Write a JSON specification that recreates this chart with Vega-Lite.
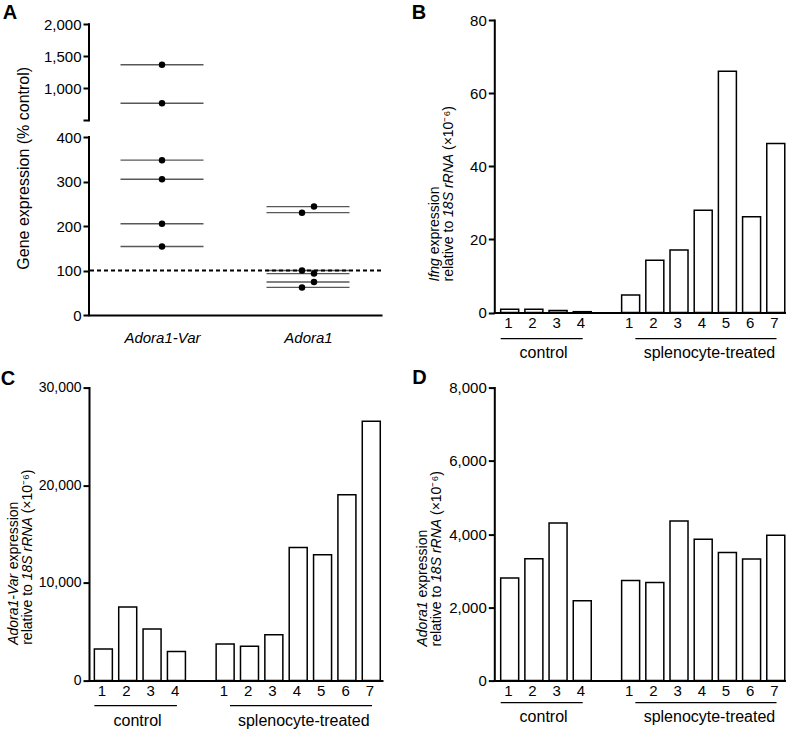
{
  "$schema": "https://vega.github.io/schema/vega-lite/v6.json",
  "background": "white",
  "padding": {"left": 0, "top": 2, "right": 0, "bottom": 0},
  "config": {
    "font": "Liberation Sans",
    "view": {"stroke": null},
    "axis": {"domainColor": "black", "domainWidth": 2, "domainCap": "square", "tickColor": "black", "tickWidth": 2, "tickSize": 6, "labelColor": "black", "labelFontSize": 15, "labelFont": "Liberation Sans", "labelOverlap": false, "titleColor": "black", "titleFont": "Liberation Sans", "titleFontWeight": "normal", "titleFontSize": 14, "grid": false},
    "axisY": {"labelPadding": 2},
    "title": {"fontSize": 20, "fontWeight": "bold", "anchor": "start", "frame": "group", "color": "black", "font": "Liberation Sans", "offset": 0, "baseline": "alphabetic"}
  },
  "datasets": {
    "A": [
      {"gene": "Adora1-Var", "value": 1367, "side": "C"},
      {"gene": "Adora1-Var", "value": 767, "side": "C"},
      {"gene": "Adora1-Var", "value": 348, "side": "C"},
      {"gene": "Adora1-Var", "value": 305, "side": "C"},
      {"gene": "Adora1-Var", "value": 205, "side": "C"},
      {"gene": "Adora1-Var", "value": 154, "side": "C"},
      {"gene": "Adora1", "value": 243.6, "side": "R"},
      {"gene": "Adora1", "value": 230, "side": "L"},
      {"gene": "Adora1", "value": 100, "side": "L"},
      {"gene": "Adora1", "value": 93, "side": "R"},
      {"gene": "Adora1", "value": 74, "side": "R"},
      {"gene": "Adora1", "value": 62, "side": "L"}
    ],
    "B": [
      {"key": "c1", "value": 0.9}, {"key": "c2", "value": 0.9}, {"key": "c3", "value": 0.6}, {"key": "c4", "value": 0.25},
      {"key": "s1", "value": 4.8}, {"key": "s2", "value": 14.3}, {"key": "s3", "value": 17.1}, {"key": "s4", "value": 28.0},
      {"key": "s5", "value": 66.0}, {"key": "s6", "value": 26.2}, {"key": "s7", "value": 46.2}
    ],
    "C": [
      {"key": "c1", "value": 3240}, {"key": "c2", "value": 7540}, {"key": "c3", "value": 5290}, {"key": "c4", "value": 2970},
      {"key": "s1", "value": 3750}, {"key": "s2", "value": 3520}, {"key": "s3", "value": 4700}, {"key": "s4", "value": 13640},
      {"key": "s5", "value": 12880}, {"key": "s6", "value": 19020}, {"key": "s7", "value": 26550}
    ],
    "D": [
      {"key": "c1", "value": 2800}, {"key": "c2", "value": 3330}, {"key": "c3", "value": 4300}, {"key": "c4", "value": 2180},
      {"key": "s1", "value": 2730}, {"key": "s2", "value": 2680}, {"key": "s3", "value": 4360}, {"key": "s4", "value": 3860},
      {"key": "s5", "value": 3500}, {"key": "s6", "value": 3320}, {"key": "s7", "value": 3970}
    ],
    "groups": [
      {"group": "control", "from": "c1", "to": "c4", "mid": "c2"},
      {"group": "splenocyte-treated", "from": "s1", "to": "s7", "mid": "s4"}
    ]
  },
  "columns": 2,
  "spacing": {"row": 72.6, "column": 112.3},
  "bounds": "flush",
  "concat": [
    {
      "width": 292, "height": 295,
      "title": {"text": "A", "dx": -86.3, "dy": 9.5},
      "resolve": {"scale": {"x": "independent"}},
      "layer": [
        {
          "data": {"name": "A"},
          "layer": [
            {
              "mark": {"type": "tick", "orient": "horizontal", "color": "#111111", "thickness": 1.4, "size": 83},
              "encoding": {
                "x": {"field": "gene", "type": "nominal", "scale": {"type": "point", "domain": ["Adora1-Var", "Adora1"], "padding": 0.5}, "axis": {"title": null, "labelAngle": 0, "labelFontStyle": "italic", "ticks": false, "labelPadding": 15}},
                "y": {"field": "value", "type": "quantitative", "scale": {"domain": [0, 400, 500, 2000], "range": [295, 117, 100.3, 4.3], "nice": false, "zero": false}, "axis": {"values": [0, 100, 200, 300, 400, 500, 1000, 1500, 2000], "tickCount": 30, "format": ",.0f", "labelExpr": "datum.value == 500 ? '' : datum.label", "domain": false, "title": "Gene expression (% control)", "titleFontSize": 16, "titleX": -58, "titleY": 147.8}}
              }
            },
            {
              "mark": {"type": "circle", "color": "black", "opacity": 1, "size": 42},
              "encoding": {
                "x": {"field": "gene", "type": "nominal", "scale": {"type": "point", "domain": ["Adora1-Var", "Adora1"], "padding": 0.5}},
                "y": {"field": "value", "type": "quantitative", "scale": {"domain": [0, 400, 500, 2000], "range": [295, 117, 100.3, 4.3], "nice": false, "zero": false}},
                "xOffset": {"field": "side", "type": "nominal", "scale": {"type": "point", "domain": ["L", "C", "R"], "range": [-6, 6], "padding": 0}}
              }
            },
            {
              "data": {"values": [{}]},
              "mark": {"type": "rule", "strokeDash": [4, 3], "strokeWidth": 2, "color": "black"},
              "encoding": {"y": {"datum": 100, "type": "quantitative", "scale": {"domain": [0, 400, 500, 2000], "range": [295, 117, 100.3, 4.3], "nice": false, "zero": false}}}
            }
          ]
        },
        {
          "data": {"values": [{"from": 0, "to": 400}, {"from": 500, "to": 2000}]},
          "mark": {"type": "rule", "strokeWidth": 2, "color": "black", "strokeCap": "square"},
          "encoding": {
            "x": {"datum": 0, "type": "quantitative", "scale": {"domain": [0, 1]}, "axis": null},
            "y": {"field": "from", "type": "quantitative", "scale": {"domain": [0, 400, 500, 2000], "range": [295, 117, 100.3, 4.3], "nice": false, "zero": false}},
            "y2": {"field": "to"}
          }
        }
      ]
    },
    {
      "width": 291, "height": 292.6,
      "title": {"text": "B", "dx": -82.6, "dy": 14.1},
      "resolve": {"axis": {"y": "independent"}},
      "layer": [
        {
          "data": {"name": "B"},
          "mark": {"type": "bar", "fill": "white", "stroke": "black", "strokeWidth": 1.5},
          "encoding": {
            "x": {"field": "key", "type": "nominal", "scale": {"type": "band", "domain": ["c1","c2","c3","c4","g","s1","s2","s3","s4","s5","s6","s7"], "paddingInner": 0.37, "paddingOuter": 0.2, "align": 0.66}, "axis": {"title": null, "ticks": false, "labelAngle": 0, "labelExpr": "slice(datum.value, 1)", "labelPadding": 3}},
            "y": {"field": "value", "type": "quantitative", "scale": {"domain": [0, 80], "nice": false}, "axis": {"orient": "left", "values": [0, 20, 40, 60, 80], "title": "Ifng", "titleFontStyle": "italic", "titleX": -53, "titleY": 261, "titleAlign": "left"}}
          }
        },
        {
          "data": {"name": "groups"},
          "transform": [{"filter": "datum.group == 'control'"}],
          "mark": {"type": "rule", "color": "black", "strokeWidth": 1.3},
          "encoding": {
            "x": {"field": "from", "type": "nominal", "bandPosition": 0, "scale": {"type": "band", "domain": ["c1","c2","c3","c4","g","s1","s2","s3","s4","s5","s6","s7"], "paddingInner": 0.37, "paddingOuter": 0.2, "align": 0.66}},
            "x2": {"field": "to", "bandPosition": 0.62},
            "y": {"datum": -7.1, "type": "quantitative", "scale": {"domain": [0, 80], "nice": false}, "axis": {"orient": "left", "domain": false, "ticks": false, "labels": false, "title": "expression", "titleX": -53, "titleY": 233.76, "titleAlign": "left"}}
          }
        },
        {
          "data": {"name": "groups"},
          "transform": [{"filter": "datum.group != 'control'"}],
          "mark": {"type": "rule", "color": "black", "strokeWidth": 1.3},
          "encoding": {
            "x": {"field": "from", "type": "nominal", "bandPosition": 0.9, "scale": {"type": "band", "domain": ["c1","c2","c3","c4","g","s1","s2","s3","s4","s5","s6","s7"], "paddingInner": 0.37, "paddingOuter": 0.2, "align": 0.66}},
            "x2": {"field": "to", "bandPosition": 0.64},
            "y": {"datum": -7.1, "type": "quantitative", "scale": {"domain": [0, 80], "nice": false}, "axis": {"orient": "left", "domain": false, "ticks": false, "labels": false, "title": "relative to", "titleX": -39, "titleY": 261, "titleAlign": "left"}}
          }
        },
        {
          "data": {"name": "groups"},
          "transform": [{"filter": "datum.group == 'control'"}],
          "mark": {"type": "text", "fontSize": 16, "color": "black", "baseline": "middle"},
          "encoding": {
            "x": {"field": "mid", "type": "nominal", "bandPosition": 1.23, "scale": {"type": "band", "domain": ["c1","c2","c3","c4","g","s1","s2","s3","s4","s5","s6","s7"], "paddingInner": 0.37, "paddingOuter": 0.2, "align": 0.66}},
            "y": {"datum": -11.1, "type": "quantitative", "scale": {"domain": [0, 80], "nice": false}, "axis": {"orient": "left", "domain": false, "ticks": false, "labels": false, "title": "18S rRNA", "titleFontStyle": "italic", "titleX": -39, "titleY": 196.42, "titleAlign": "left"}},
            "text": {"field": "group"}
          }
        },
        {
          "data": {"name": "groups"},
          "transform": [{"filter": "datum.group != 'control'"}],
          "mark": {"type": "text", "fontSize": 16, "color": "black", "baseline": "middle"},
          "encoding": {
            "x": {"field": "mid", "type": "nominal", "bandPosition": 1.0, "scale": {"type": "band", "domain": ["c1","c2","c3","c4","g","s1","s2","s3","s4","s5","s6","s7"], "paddingInner": 0.37, "paddingOuter": 0.2, "align": 0.66}},
            "y": {"datum": -11.1, "type": "quantitative", "scale": {"domain": [0, 80], "nice": false}, "axis": {"orient": "left", "domain": false, "ticks": false, "labels": false, "title": "(×10⁻⁶)", "titleX": -39, "titleY": 129.51, "titleAlign": "left"}},
            "text": {"field": "group"}
          }
        }
      ]
    },
    {
      "width": 293, "height": 293,
      "title": {"text": "C", "dx": -88.3, "dy": 12.7},
      "resolve": {"axis": {"y": "independent"}},
      "layer": [
        {
          "data": {"name": "C"},
          "mark": {"type": "bar", "fill": "white", "stroke": "black", "strokeWidth": 1.5},
          "encoding": {
            "x": {"field": "key", "type": "nominal", "scale": {"type": "band", "domain": ["c1","c2","c3","c4","g","s1","s2","s3","s4","s5","s6","s7"], "paddingInner": 0.37, "paddingOuter": 0.2, "align": 0.55}, "axis": {"title": null, "ticks": false, "labelAngle": 0, "labelExpr": "slice(datum.value, 1)", "labelPadding": 3}},
            "y": {"field": "value", "type": "quantitative", "scale": {"domain": [0, 30000], "nice": false}, "axis": {"orient": "left", "values": [0, 10000, 20000, 30000], "format": ",.0f", "labelFontSize": 14, "title": "Adora1-Var", "titleFontStyle": "italic", "titleX": -69, "titleY": 256.7, "titleAlign": "left"}}
          }
        },
        {
          "data": {"name": "groups"},
          "transform": [{"filter": "datum.group == 'control'"}],
          "mark": {"type": "rule", "color": "black", "strokeWidth": 1.3},
          "encoding": {
            "x": {"field": "from", "type": "nominal", "bandPosition": 0, "scale": {"type": "band", "domain": ["c1","c2","c3","c4","g","s1","s2","s3","s4","s5","s6","s7"], "paddingInner": 0.37, "paddingOuter": 0.2, "align": 0.55}},
            "x2": {"field": "to", "bandPosition": 0.62},
            "y": {"datum": -2560, "type": "quantitative", "scale": {"domain": [0, 30000], "nice": false}, "axis": {"orient": "left", "domain": false, "ticks": false, "labels": false, "title": "expression", "titleX": -69, "titleY": 181.23, "titleAlign": "left"}}
          }
        },
        {
          "data": {"name": "groups"},
          "transform": [{"filter": "datum.group != 'control'"}],
          "mark": {"type": "rule", "color": "black", "strokeWidth": 1.3},
          "encoding": {
            "x": {"field": "from", "type": "nominal", "bandPosition": 0.9, "scale": {"type": "band", "domain": ["c1","c2","c3","c4","g","s1","s2","s3","s4","s5","s6","s7"], "paddingInner": 0.37, "paddingOuter": 0.2, "align": 0.55}},
            "x2": {"field": "to", "bandPosition": 0.64},
            "y": {"datum": -2560, "type": "quantitative", "scale": {"domain": [0, 30000], "nice": false}, "axis": {"orient": "left", "domain": false, "ticks": false, "labels": false, "title": "relative to", "titleX": -55, "titleY": 256.7, "titleAlign": "left"}}
          }
        },
        {
          "data": {"name": "groups"},
          "transform": [{"filter": "datum.group == 'control'"}],
          "mark": {"type": "text", "fontSize": 16, "color": "black", "baseline": "middle"},
          "encoding": {
            "x": {"field": "mid", "type": "nominal", "bandPosition": 1.23, "scale": {"type": "band", "domain": ["c1","c2","c3","c4","g","s1","s2","s3","s4","s5","s6","s7"], "paddingInner": 0.37, "paddingOuter": 0.2, "align": 0.55}},
            "y": {"datum": -4095, "type": "quantitative", "scale": {"domain": [0, 30000], "nice": false}, "axis": {"orient": "left", "domain": false, "ticks": false, "labels": false, "title": "18S rRNA", "titleFontStyle": "italic", "titleX": -55, "titleY": 192.12, "titleAlign": "left"}},
            "text": {"field": "group"}
          }
        },
        {
          "data": {"name": "groups"},
          "transform": [{"filter": "datum.group != 'control'"}],
          "mark": {"type": "text", "fontSize": 16, "color": "black", "baseline": "middle"},
          "encoding": {
            "x": {"field": "mid", "type": "nominal", "bandPosition": 0.95, "scale": {"type": "band", "domain": ["c1","c2","c3","c4","g","s1","s2","s3","s4","s5","s6","s7"], "paddingInner": 0.37, "paddingOuter": 0.2, "align": 0.55}},
            "y": {"datum": -4095, "type": "quantitative", "scale": {"domain": [0, 30000], "nice": false}, "axis": {"orient": "left", "domain": false, "ticks": false, "labels": false, "title": "(×10⁻⁶)", "titleX": -55, "titleY": 125.21, "titleAlign": "left"}},
            "text": {"field": "group"}
          }
        }
      ]
    },
    {
      "width": 291, "height": 293,
      "title": {"text": "D", "dx": -82, "dy": 11.5},
      "resolve": {"axis": {"y": "independent"}},
      "layer": [
        {
          "data": {"name": "D"},
          "mark": {"type": "bar", "fill": "white", "stroke": "black", "strokeWidth": 1.5},
          "encoding": {
            "x": {"field": "key", "type": "nominal", "scale": {"type": "band", "domain": ["c1","c2","c3","c4","g","s1","s2","s3","s4","s5","s6","s7"], "paddingInner": 0.37, "paddingOuter": 0.2, "align": 0.66}, "axis": {"title": null, "ticks": false, "labelAngle": 0, "labelExpr": "slice(datum.value, 1)", "labelPadding": 3}},
            "y": {"field": "value", "type": "quantitative", "scale": {"domain": [0, 8000], "nice": false}, "axis": {"orient": "left", "values": [0, 2000, 4000, 6000, 8000], "format": ",.0f", "title": "Adora1", "titleFontStyle": "italic", "titleX": -65, "titleY": 258.4, "titleAlign": "left"}}
          }
        },
        {
          "data": {"name": "groups"},
          "transform": [{"filter": "datum.group == 'control'"}],
          "mark": {"type": "rule", "color": "black", "strokeWidth": 1.3},
          "encoding": {
            "x": {"field": "from", "type": "nominal", "bandPosition": 0, "scale": {"type": "band", "domain": ["c1","c2","c3","c4","g","s1","s2","s3","s4","s5","s6","s7"], "paddingInner": 0.37, "paddingOuter": 0.2, "align": 0.66}},
            "x2": {"field": "to", "bandPosition": 0.62},
            "y": {"datum": -600, "type": "quantitative", "scale": {"domain": [0, 8000], "nice": false}, "axis": {"orient": "left", "domain": false, "ticks": false, "labels": false, "title": "expression", "titleX": -65, "titleY": 209.37, "titleAlign": "left"}}
          }
        },
        {
          "data": {"name": "groups"},
          "transform": [{"filter": "datum.group != 'control'"}],
          "mark": {"type": "rule", "color": "black", "strokeWidth": 1.3},
          "encoding": {
            "x": {"field": "from", "type": "nominal", "bandPosition": 0.9, "scale": {"type": "band", "domain": ["c1","c2","c3","c4","g","s1","s2","s3","s4","s5","s6","s7"], "paddingInner": 0.37, "paddingOuter": 0.2, "align": 0.66}},
            "x2": {"field": "to", "bandPosition": 0.64},
            "y": {"datum": -600, "type": "quantitative", "scale": {"domain": [0, 8000], "nice": false}, "axis": {"orient": "left", "domain": false, "ticks": false, "labels": false, "title": "relative to", "titleX": -51, "titleY": 258.4, "titleAlign": "left"}}
          }
        },
        {
          "data": {"name": "groups"},
          "transform": [{"filter": "datum.group == 'control'"}],
          "mark": {"type": "text", "fontSize": 16, "color": "black", "baseline": "middle"},
          "encoding": {
            "x": {"field": "mid", "type": "nominal", "bandPosition": 1.23, "scale": {"type": "band", "domain": ["c1","c2","c3","c4","g","s1","s2","s3","s4","s5","s6","s7"], "paddingInner": 0.37, "paddingOuter": 0.2, "align": 0.66}},
            "y": {"datum": -985, "type": "quantitative", "scale": {"domain": [0, 8000], "nice": false}, "axis": {"orient": "left", "domain": false, "ticks": false, "labels": false, "title": "18S rRNA", "titleFontStyle": "italic", "titleX": -51, "titleY": 193.82, "titleAlign": "left"}},
            "text": {"field": "group"}
          }
        },
        {
          "data": {"name": "groups"},
          "transform": [{"filter": "datum.group != 'control'"}],
          "mark": {"type": "text", "fontSize": 16, "color": "black", "baseline": "middle"},
          "encoding": {
            "x": {"field": "mid", "type": "nominal", "bandPosition": 1.0, "scale": {"type": "band", "domain": ["c1","c2","c3","c4","g","s1","s2","s3","s4","s5","s6","s7"], "paddingInner": 0.37, "paddingOuter": 0.2, "align": 0.66}},
            "y": {"datum": -985, "type": "quantitative", "scale": {"domain": [0, 8000], "nice": false}, "axis": {"orient": "left", "domain": false, "ticks": false, "labels": false, "title": "(×10⁻⁶)", "titleX": -51, "titleY": 126.91, "titleAlign": "left"}},
            "text": {"field": "group"}
          }
        }
      ]
    }
  ]
}
